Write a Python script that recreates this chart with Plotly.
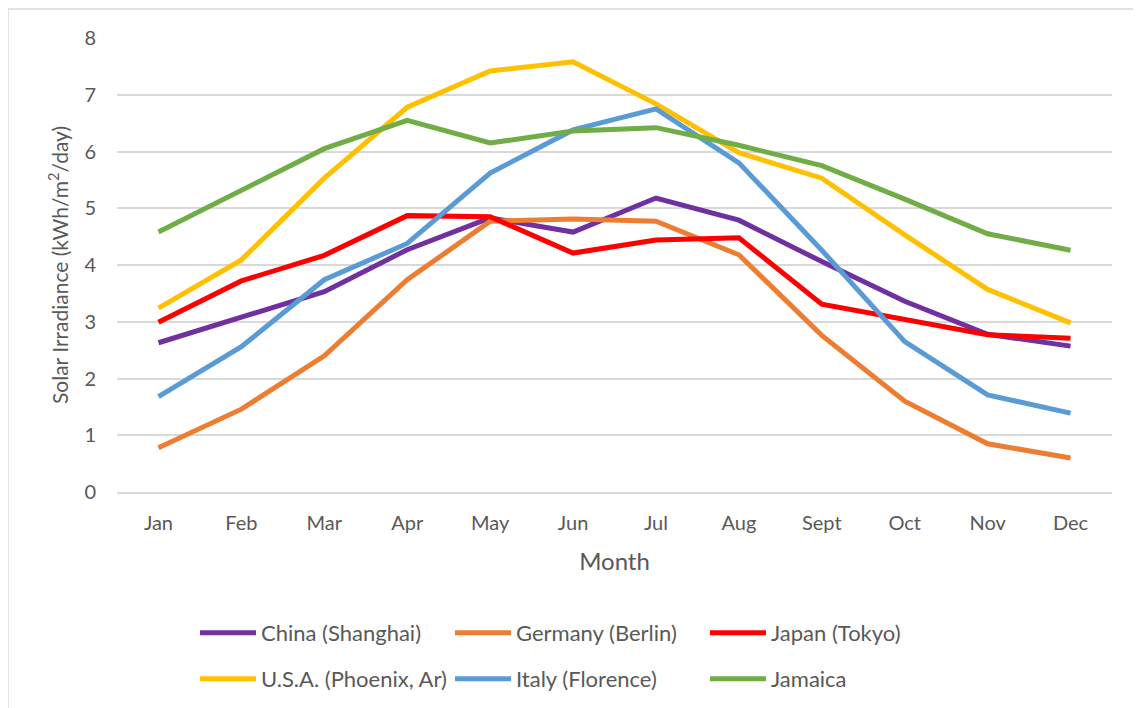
import plotly.graph_objects as go

months = ["Jan", "Feb", "Mar", "Apr", "May", "Jun", "Jul", "Aug", "Sept", "Oct", "Nov", "Dec"]

china = [2.63, 3.07, 3.53, 4.27, 4.83, 4.58, 5.18, 4.79, 4.06, 3.36, 2.78, 2.57]
germany = [0.78, 1.46, 2.40, 3.74, 4.77, 4.81, 4.77, 4.18, 2.76, 1.60, 0.85, 0.60]
japan = [2.99, 3.72, 4.17, 4.87, 4.85, 4.21, 4.44, 4.48, 3.31, 3.05, 2.77, 2.71]
usa = [3.24, 4.09, 5.53, 6.78, 7.42, 7.58, 6.84, 5.98, 5.53, 4.53, 3.57, 2.98]
italy = [1.68, 2.56, 3.74, 4.38, 5.62, 6.38, 6.75, 5.80, 4.26, 2.65, 1.71, 1.39]
jamaica = [4.58, 5.32, 6.05, 6.55, 6.15, 6.36, 6.42, 6.11, 5.75, 5.16, 4.55, 4.26]

series_names = ["China (Shanghai)", "Germany (Berlin)", "Japan (Tokyo)",
                "U.S.A. (Phoenix, Ar)", "Italy (Florence)", "Jamaica"]
series_values = [china, germany, japan, usa, italy, jamaica]
series_colors = ["#7030A0", "#ED7D31", "#FF0000", "#FFC000", "#5B9BD5", "#70AD47"]
series_legend = ["legend", "legend", "legend", "legend2", "legend2", "legend2"]

FONT = "Lato"
TXT = "#595959"
GRID = "#D9D9D9"

fig = go.Figure()
for name, vals, col, lg in zip(series_names, series_values, series_colors, series_legend):
    fig.add_trace(go.Scatter(
        x=months, y=vals, name=name, mode="lines",
        line=dict(color=col, width=5),
        legend=lg,
    ))

# page offset (body margin) and plot area geometry in screen px
OFF = 8
W, H = 1141 - OFF, 708 - OFF
L, R, T, B = 117 - OFF, 1112 - OFF, 38 - OFF, 492 - OFF
pw, ph = R - L, B - T

def px_x(x):
    return (x - OFF - L) / pw

def px_y(y):
    return (B - (y - OFF)) / ph

def cx(x):
    return (x - OFF) / W

def cy(y):
    return 1 - (y - OFF) / H

legend_common = dict(
    orientation="h", xanchor="left", yanchor="middle",
    xref="container", yref="container",
    font=dict(family=FONT, size=22, color=TXT),
    entrywidth=184, entrywidthmode="pixels", itemwidth=56,
    bgcolor="rgba(0,0,0,0)", borderwidth=0,
)

fig.update_layout(
    width=W, height=H,
    margin=dict(l=L, r=W - R, t=T, b=H - B),
    paper_bgcolor="white", plot_bgcolor="white",
    font=dict(family=FONT, color=TXT),
    showlegend=True,
    legend=dict(x=cx(195), y=cy(633), **legend_common),
    legend2=dict(x=cx(195), y=cy(679), **legend_common),
    xaxis=dict(
        type="category", range=[-0.5, 11.5],
        showgrid=False, showline=True, linecolor=GRID, linewidth=1.5,
        ticks="", tickfont=dict(family=FONT, size=20, color=TXT),
        ticklabelstandoff=12,
        title=dict(text="Month", font=dict(family=FONT, size=24, color=TXT), standoff=20),
    ),
    yaxis=dict(
        range=[0, 8], dtick=1, showgrid=True, gridcolor=GRID, gridwidth=1.5,
        zeroline=False, showline=False, ticks="",
        tickfont=dict(family=FONT, size=20, color=TXT),
        ticklabelstandoff=20,
        title=dict(text="Solar Irradiance (kWh/m<sup>2</sup>/day)",
                   font=dict(family=FONT, size=21, color=TXT), standoff=10),
    ),
    shapes=[
        dict(type="line", xref="paper", yref="paper",
             x0=px_x(8), x1=px_x(1150), y0=px_y(9), y1=px_y(9),
             line=dict(color=GRID, width=1.5)),
        dict(type="line", xref="paper", yref="paper",
             x0=px_x(8), x1=px_x(8), y0=px_y(9), y1=px_y(720),
             line=dict(color=GRID, width=1.5)),
    ],
)

fig.write_html("out.html")
